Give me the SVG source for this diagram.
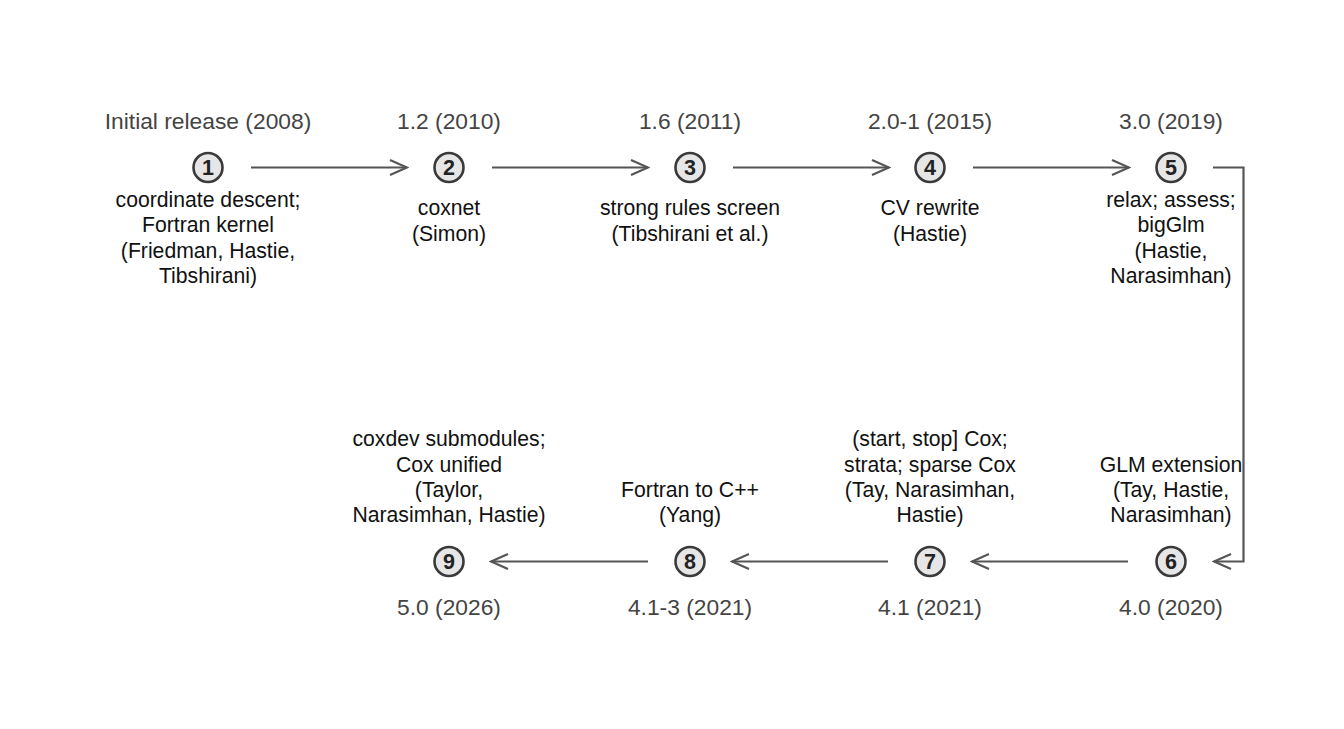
<svg xmlns="http://www.w3.org/2000/svg" width="1344" height="729" viewBox="0 0 1344 729">
<defs>
<style>
.ver{font-family:"Liberation Sans",Arial,sans-serif;font-size:22.8px;fill:#444;text-anchor:middle}
.body{font-family:"Liberation Sans",Arial,sans-serif;font-size:21.2px;fill:#111;text-anchor:middle}
.num{font-family:"Liberation Sans",Arial,sans-serif;font-size:21.5px;font-weight:bold;fill:#222;text-anchor:middle}
.c{fill:#e6e6e6;stroke:#3a3a3a;stroke-width:2.6}
.e{fill:none;stroke:#555;stroke-width:2.2;marker-end:url(#ah)}
</style>
<marker id="ah" viewBox="0 0 20 20" refX="18" refY="10" markerWidth="20" markerHeight="20" markerUnits="userSpaceOnUse" orient="auto">
<path d="M1 2.5 L18 10 L1 17.5" fill="none" stroke="#555" stroke-width="2.2"/>
</marker>
</defs>
<rect width="1344" height="729" fill="#fff"/>
<g id="connectors">
<path class="e" d="M251 167.5 H407"/>
<path class="e" d="M492 167.5 H648"/>
<path class="e" d="M733 167.5 H889"/>
<path class="e" d="M973 167.5 H1129"/>
<path class="e" d="M1213 167.5 H1243.5 V561.5 H1214"/>
<path class="e" d="M1128 561.5 H972"/>
<path class="e" d="M888 561.5 H732"/>
<path class="e" d="M648 561.5 H491"/>
</g>
<g id="n1">
<text class="ver" x="208" y="129">Initial release (2008)</text>
<circle class="c" cx="208" cy="167.5" r="14.5"/>
<text class="num" x="208" y="175">1</text>
<text class="body" x="208" y="207">coordinate descent;</text>
<text class="body" x="208" y="232">Fortran kernel</text>
<text class="body" x="208" y="257.5">(Friedman, Hastie,</text>
<text class="body" x="208" y="283">Tibshirani)</text>
</g>
<g id="n2">
<text class="ver" x="449" y="129">1.2 (2010)</text>
<circle class="c" cx="449" cy="167.5" r="14.5"/>
<text class="num" x="449" y="175">2</text>
<text class="body" x="449" y="215">coxnet</text>
<text class="body" x="449" y="241">(Simon)</text>
</g>
<g id="n3">
<text class="ver" x="690" y="129">1.6 (2011)</text>
<circle class="c" cx="690" cy="167.5" r="14.5"/>
<text class="num" x="690" y="175">3</text>
<text class="body" x="690" y="215">strong rules screen</text>
<text class="body" x="690" y="241">(Tibshirani et al.)</text>
</g>
<g id="n4">
<text class="ver" x="930" y="129">2.0-1 (2015)</text>
<circle class="c" cx="930" cy="167.5" r="14.5"/>
<text class="num" x="930" y="175">4</text>
<text class="body" x="930" y="215">CV rewrite</text>
<text class="body" x="930" y="241">(Hastie)</text>
</g>
<g id="n5">
<text class="ver" x="1171" y="129">3.0 (2019)</text>
<circle class="c" cx="1171" cy="167.5" r="14.5"/>
<text class="num" x="1171" y="175">5</text>
<text class="body" x="1171" y="207">relax; assess;</text>
<text class="body" x="1171" y="232">bigGlm</text>
<text class="body" x="1171" y="257.5">(Hastie,</text>
<text class="body" x="1171" y="283">Narasimhan)</text>
</g>
<g id="n6">
<text class="body" x="1171" y="471.5">GLM extension</text>
<text class="body" x="1171" y="497">(Tay, Hastie,</text>
<text class="body" x="1171" y="522">Narasimhan)</text>
<circle class="c" cx="1171" cy="561.5" r="14.5"/>
<text class="num" x="1171" y="569">6</text>
<text class="ver" x="1171" y="615">4.0 (2020)</text>
</g>
<g id="n7">
<text class="body" x="930" y="446">(start, stop] Cox;</text>
<text class="body" x="930" y="471.5">strata; sparse Cox</text>
<text class="body" x="930" y="497">(Tay, Narasimhan,</text>
<text class="body" x="930" y="522">Hastie)</text>
<circle class="c" cx="930" cy="561.5" r="14.5"/>
<text class="num" x="930" y="569">7</text>
<text class="ver" x="930" y="615">4.1 (2021)</text>
</g>
<g id="n8">
<text class="body" x="690" y="497">Fortran to C++</text>
<text class="body" x="690" y="522">(Yang)</text>
<circle class="c" cx="690" cy="561.5" r="14.5"/>
<text class="num" x="690" y="569">8</text>
<text class="ver" x="690" y="615">4.1-3 (2021)</text>
</g>
<g id="n9">
<text class="body" x="449" y="446">coxdev submodules;</text>
<text class="body" x="449" y="471.5">Cox unified</text>
<text class="body" x="449" y="497">(Taylor,</text>
<text class="body" x="449" y="522">Narasimhan, Hastie)</text>
<circle class="c" cx="449" cy="561.5" r="14.5"/>
<text class="num" x="449" y="569">9</text>
<text class="ver" x="449" y="615">5.0 (2026)</text>
</g>
</svg>
